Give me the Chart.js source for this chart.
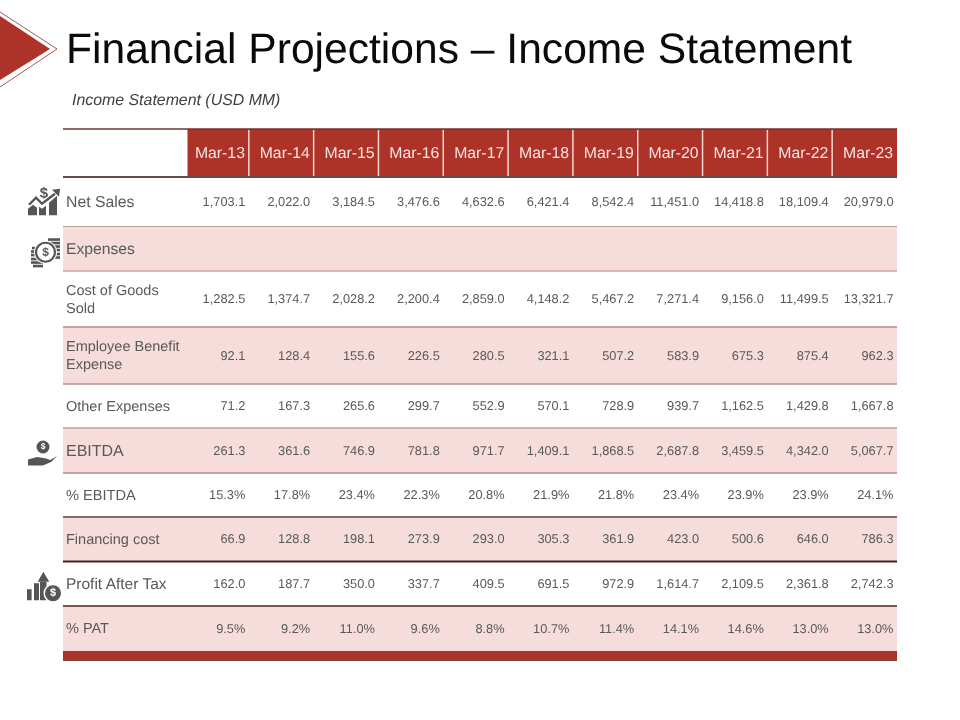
<!DOCTYPE html>
<html>
<head>
<meta charset="utf-8">
<title>Financial Projections – Income Statement</title>
<script src="https://cdn.jsdelivr.net/npm/chart.js@4"></script>
<style>
  html, body { margin: 0; padding: 0; background: #fff; }
  canvas { display: block; }
</style>
</head>
<body>
<canvas id="chart" width="960" height="720"></canvas>
<script>
// Data
const months = ['Mar-13', 'Mar-14', 'Mar-15', 'Mar-16', 'Mar-17', 'Mar-18', 'Mar-19', 'Mar-20', 'Mar-21', 'Mar-22', 'Mar-23'];
const rowLabels = ['Net Sales', 'Expenses', ['Cost of Goods', 'Sold'], ['Employee Benefit', 'Expense'], 'Other Expenses', 'EBITDA', '% EBITDA', 'Financing cost', 'Profit After Tax', '% PAT'];

const netSales = [1703.1, 2022.0, 3184.5, 3476.6, 4632.6, 6421.4, 8542.4, 11451.0, 14418.8, 18109.4, 20979.0];
const expenses = [];
const costOfGoods = [1282.5, 1374.7, 2028.2, 2200.4, 2859.0, 4148.2, 5467.2, 7271.4, 9156.0, 11499.5, 13321.7];
const employeeBenefit = [92.1, 128.4, 155.6, 226.5, 280.5, 321.1, 507.2, 583.9, 675.3, 875.4, 962.3];
const otherExpenses = [71.2, 167.3, 265.6, 299.7, 552.9, 570.1, 728.9, 939.7, 1162.5, 1429.8, 1667.8];
const ebitda = [261.3, 361.6, 746.9, 781.8, 971.7, 1409.1, 1868.5, 2687.8, 3459.5, 4342.0, 5067.7];
const ebitdaPct = [15.3, 17.8, 23.4, 22.3, 20.8, 21.9, 21.8, 23.4, 23.9, 23.9, 24.1];
const financingCost = [66.9, 128.8, 198.1, 273.9, 293.0, 305.3, 361.9, 423.0, 500.6, 646.0, 786.3];
const profitAfterTax = [162.0, 187.7, 350.0, 337.7, 409.5, 691.5, 972.9, 1614.7, 2109.5, 2361.8, 2742.3];
const patPct = [9.5, 9.2, 11.0, 9.6, 8.8, 10.7, 11.4, 14.1, 14.6, 13.0, 13.0];

const rowValues = [netSales, expenses, costOfGoods, employeeBenefit, otherExpenses, ebitda, ebitdaPct, financingCost, profitAfterTax, patPct];
const percentRows = [6, 9];

// Layout and styles
const FONT = '"Liberation Sans", Arial, sans-serif';
const RED = '#ad3329';
const PINK = '#f6dddc';
const TEXT = '#595959';
const ICON = '#555555';
const rowUnits = [49.5, 44.5, 56, 57, 44, 45, 44, 44.5, 44.5, 45];
const rowRuleColors = ['#c09a95', '#dcb4b1', '#b98a85', '#b8918d', '#d4b0ad', '#b58e8a', '#8a6865', '#4a1f1f', '#7d5654', null];
const rowRuleWidths = [1, 2, 1.5, 1.5, 2, 1.5, 2, 2, 2, 0];
const labelFontSizes = [15.8, 15.7, 14.5, 14.5, 14.5, 16, 14.6, 14.5, 15.5, 14.5];
const TEXT_NUDGE = 0.7;

// row edges and centres on the y scale
const rowEdges = [0];
rowUnits.forEach(u => rowEdges.push(rowEdges[rowEdges.length - 1] + u));
const rowCenters = rowUnits.map((u, i) => rowEdges[i] + u / 2);

function formatCell(value, rowIndex) {
    if (percentRows.includes(rowIndex)) {
        return value.toFixed(1) + '%';
    }
    return value.toLocaleString('en-US', { minimumFractionDigits: 1, maximumFractionDigits: 1 });
}

function dollar(ctx, x, y, size, color) {
    ctx.fillStyle = color;
    ctx.font = `bold ${size}px ${FONT}`;
    ctx.textAlign = 'center';
    ctx.textBaseline = 'middle';
    ctx.fillText('$', x, y);
}

function poly(ctx, points) {
    ctx.beginPath();
    points.forEach((p, i) => (i ? ctx.lineTo(p[0], p[1]) : ctx.moveTo(p[0], p[1])));
    ctx.closePath();
    ctx.fill();
}

// Icons are drawn around the centre of their row
function iconNetSales(ctx) {
    ctx.fillStyle = ICON;
    poly(ctx, [[28, 13.5], [28, 7], [33, 3], [37, 6], [37, 13.5]]);
    poly(ctx, [[39, 13.5], [39, 5], [42, 7], [46, 4], [46, 13.5]]);
    poly(ctx, [[49, 13.5], [49, 1], [57, -6], [57, 13.5]]);
    ctx.strokeStyle = ICON;
    ctx.lineWidth = 2.4;
    ctx.beginPath();
    ctx.moveTo(29, 3);
    ctx.lineTo(36, -4);
    ctx.lineTo(42, 2);
    ctx.lineTo(55, -8);
    ctx.stroke();
    poly(ctx, [[52, -12], [60, -13], [59, -5]]);
    dollar(ctx, 44, -8, 15, ICON);
}

function iconCoins(ctx) {
    ctx.fillStyle = ICON;
    [[48, -10.5, 12], [49, -7, 11], [50, -3.5, 10], [52, 0, 8], [53, 4, 7], [52, 7.5, 8]].forEach(b => ctx.fillRect(b[0], b[1], b[2], 2.6));
    [[32, -2, 6], [31, 1.5, 7], [31, 5, 8], [31, 9, 11], [31, 12.5, 12], [33, 16, 10]].forEach(b => ctx.fillRect(b[0], b[1], b[2], 2.6));
    ctx.beginPath();
    ctx.fillStyle = '#fff';
    ctx.arc(45.5, 3.5, 11.5, 0, Math.PI * 2);
    ctx.fill();
    ctx.strokeStyle = ICON;
    ctx.lineWidth = 2.2;
    ctx.beginPath();
    ctx.arc(45.5, 3.5, 9.5, 0, Math.PI * 2);
    ctx.stroke();
    dollar(ctx, 45.5, 3.5, 12, ICON);
}

function iconHand(ctx) {
    ctx.fillStyle = ICON;
    ctx.beginPath();
    ctx.arc(43, -3.5, 6.5, 0, Math.PI * 2);
    ctx.fill();
    dollar(ctx, 43, -3.5, 8.5, '#fff');
    ctx.fillStyle = ICON;
    poly(ctx, [[28, 9], [37, 6.5], [46, 8], [50, 9.5], [57, 5.5], [51, 11.5], [43, 15], [28, 15]]);
}

function iconProfit(ctx) {
    ctx.fillStyle = ICON;
    ctx.fillRect(27, 5.5, 4.6, 11);
    ctx.fillRect(34, -0.5, 5, 17);
    ctx.fillRect(40, -2, 6.5, 18.5);
    poly(ctx, [[43.3, -12], [49.3, -2], [37.7, -2]]);
    ctx.fillStyle = '#fff';
    ctx.beginPath();
    ctx.arc(53, 9.5, 9.5, 0, Math.PI * 2);
    ctx.fill();
    ctx.fillStyle = ICON;
    ctx.beginPath();
    ctx.arc(53, 9.5, 8, 0, Math.PI * 2);
    ctx.fill();
    dollar(ctx, 53, 9.5, 11, '#fff');
}

const rowIcons = { 0: iconNetSales, 1: iconCoins, 5: iconHand, 8: iconProfit };

// Slide furniture, row bands, header and rules, all placed through the scales
const tablePlugin = {
    id: 'table',
    beforeDraw(chart) {
        const { ctx, scales: { x, y } } = chart;
        const left = x.left - 121;
        const right = x.right;
        const headerTop = x.top;
        const headerBottom = x.bottom;
        const halfCol = (x.getPixelForValue(1) - x.getPixelForValue(0)) / 2;

        ctx.textRendering = 'geometricPrecision';
        ctx.save();

        // arrow, top left
        ctx.fillStyle = RED;
        poly(ctx, [[0, 16], [50, 49], [0, 80]]);
        ctx.strokeStyle = '#a65a55';
        ctx.lineWidth = 1;
        ctx.beginPath();
        ctx.moveTo(0, 12);
        ctx.lineTo(57, 49);
        ctx.lineTo(0, 87);
        ctx.stroke();

        // subtitle
        ctx.fillStyle = '#404040';
        ctx.font = `italic 15.9px ${FONT}`;
        ctx.textAlign = 'left';
        ctx.textBaseline = 'middle';
        ctx.fillText('Income Statement (USD MM)', 72, 100.5);

        // pink bands
        ctx.fillStyle = PINK;
        rowUnits.forEach((u, i) => {
            if (i % 2 === 1) {
                const top = y.getPixelForValue(rowEdges[i]);
                ctx.fillRect(left, top, right - left, y.getPixelForValue(rowEdges[i + 1]) - top);
            }
        });

        // header
        ctx.fillStyle = RED;
        ctx.fillRect(x.left + 3.5, headerTop, right - x.left - 3.5, headerBottom - headerTop);
        ctx.strokeStyle = '#f6d6d1';
        ctx.lineWidth = 1.5;
        months.slice(0, -1).forEach((m, i) => {
            const px = x.getPixelForValue(i) + halfCol;
            ctx.beginPath();
            ctx.moveTo(px, headerTop + 1);
            ctx.lineTo(px, headerBottom - 1);
            ctx.stroke();
        });
        ctx.strokeStyle = '#6e3433';
        ctx.lineWidth = 1.5;
        ctx.beginPath();
        ctx.moveTo(left, headerTop);
        ctx.lineTo(right, headerTop);
        ctx.stroke();
        ctx.strokeStyle = '#6b4b4a';
        ctx.lineWidth = 2;
        ctx.beginPath();
        ctx.moveTo(left, headerBottom);
        ctx.lineTo(right, headerBottom);
        ctx.stroke();

        // rules between rows
        rowRuleColors.forEach((color, i) => {
            if (!color) return;
            const py = y.getPixelForValue(rowEdges[i + 1]);
            ctx.strokeStyle = color;
            ctx.lineWidth = rowRuleWidths[i];
            ctx.beginPath();
            ctx.moveTo(left, py);
            ctx.lineTo(right, py);
            ctx.stroke();
        });

        // red footer band
        const tableBottom = y.getPixelForValue(rowEdges[rowEdges.length - 1]);
        ctx.fillStyle = RED;
        ctx.fillRect(left, tableBottom, right - left, 9);
        ctx.fillStyle = '#7d4340';
        ctx.fillRect(left, tableBottom + 9, right - left, 1);

        // icons
        Object.keys(rowIcons).forEach(i => {
            ctx.save();
            ctx.translate(0, y.getPixelForValue(rowCenters[i]));
            rowIcons[i](ctx);
            ctx.restore();
        });

        ctx.restore();
    },
    afterDatasetsDraw(chart) {
        const { ctx, scales: { x } } = chart;
        const halfCol = (x.getPixelForValue(1) - x.getPixelForValue(0)) / 2;
        ctx.save();
        ctx.fillStyle = TEXT;
        ctx.font = `12.8px ${FONT}`;
        ctx.textAlign = 'right';
        ctx.textBaseline = 'middle';
        chart.data.datasets.forEach((dataset, d) => {
            chart.getDatasetMeta(d).data.forEach((point, i) => {
                ctx.fillText(formatCell(dataset.data[i].value, d), point.x + halfCol - 3.5, point.y + TEXT_NUDGE);
            });
        });
        ctx.restore();
    }
};

new Chart(document.getElementById('chart'), {
    type: 'line',
    data: {
        labels: months,
        datasets: rowValues.map((values, r) => ({
            label: Array.isArray(rowLabels[r]) ? rowLabels[r].join(' ') : rowLabels[r],
            data: values.map((value, i) => ({ x: months[i], y: rowCenters[r], value: value })),
            showLine: false,
            pointRadius: 0,
            pointHoverRadius: 0
        }))
    },
    options: {
        responsive: false,
        animation: false,
        events: [],
        layout: { padding: { left: 66, right: 63, top: 0, bottom: 69 } },
        plugins: {
            legend: { display: false },
            tooltip: { enabled: false },
            title: {
                display: true,
                text: 'Financial Projections – Income Statement',
                align: 'start',
                color: '#0a0a0a',
                font: { family: FONT, size: 42.6, weight: 'normal', lineHeight: 1.2 },
                padding: { top: 26, bottom: 51.88 }
            }
        },
        scales: {
            x: {
                type: 'category',
                position: 'top',
                offset: true,
                afterFit(scale) { scale.height = 48; },
                grid: { display: false, drawTicks: false },
                border: { display: false },
                ticks: {
                    color: '#fbe4e1',
                    font: { family: FONT, size: 15.8 },
                    padding: 13.5,
                    labelOffset: 3.5,
                    maxRotation: 0,
                    autoSkip: false
                }
            },
            y: {
                type: 'linear',
                reverse: true,
                min: 0,
                max: rowEdges[rowEdges.length - 1],
                afterFit(scale) { scale.width = 118; },
                afterBuildTicks(scale) {
                    scale.ticks = rowCenters.map(value => ({ value: value + TEXT_NUDGE }));
                },
                grid: { display: false, drawTicks: false },
                border: { display: false },
                ticks: {
                    autoSkip: false,
                    crossAlign: 'far',
                    padding: 0,
                    color: TEXT,
                    font: ctx => ({ family: FONT, size: labelFontSizes[ctx.index], lineHeight: 1.25 }),
                    callback: (value, index) => rowLabels[index]
                }
            }
        }
    },
    plugins: [tablePlugin]
});
</script>
</body>
</html>
